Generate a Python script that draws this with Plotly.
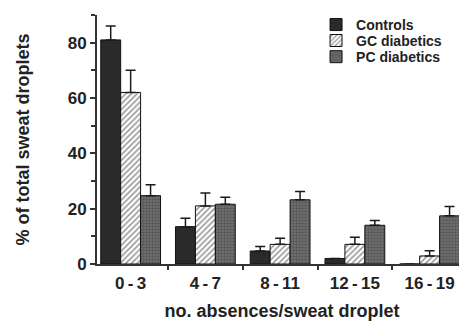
import plotly.graph_objects as go

categories = ["0-3", "4-7", "8-11", "12-15", "16-19"]
tick_labels = ["0\u2009-\u20093", "4\u2009-\u20097", "8\u2009-\u200911", "12\u2009-\u200915", "16\u2009-\u200919"]

controls = [81, 13.5, 4.7, 2.0, 0]
controls_err = [5, 3, 1.6, 0, 0]
gc = [62, 21, 7.1, 7.1, 2.9]
gc_err = [8, 4.7, 2.2, 2.6, 1.9]
pc = [24.7, 21.6, 23.2, 14, 17.4]
pc_err = [3.9, 2.5, 3.0, 1.7, 3.4]

FONT = "Liberation Sans, Arial, Helvetica, sans-serif"

def err(vals):
    return dict(type="data", array=vals, arrayminus=[0] * len(vals), symmetric=False,
                color="#1a1a1a", thickness=1.5, width=5)

fig = go.Figure()
fig.add_trace(go.Bar(
    name="Controls", x=categories, y=controls, error_y=err(controls_err), legend="legend",
    marker=dict(color="#2a2a2a", line=dict(color="#111", width=1)),
))
fig.add_trace(go.Bar(
    name="GC diabetics", x=categories, y=gc, error_y=err(gc_err), legend="legend2",
    marker=dict(color="white", line=dict(color="#111", width=1),
                pattern=dict(shape="/", fgcolor="#333", bgcolor="white", size=4, solidity=0.4)),
))
fig.add_trace(go.Bar(
    name="PC diabetics", x=categories, y=pc, error_y=err(pc_err), legend="legend3",
    marker=dict(color="#666", line=dict(color="#111", width=1),
                pattern=dict(shape=".", fgcolor="#383838", bgcolor="#747474", size=3, solidity=0.5)),
))

leg_font = dict(size=14, family=FONT, weight="bold", color="#222")
def leg(y):
    return dict(x=0.592, y=y, xanchor="left", yanchor="middle", font=leg_font,
                bgcolor="rgba(0,0,0,0)", itemwidth=30, borderwidth=0)

fig.update_layout(
    width=459, height=313,
    margin=dict(l=89, r=0, t=7, b=57, autoexpand=False),
    paper_bgcolor="white", plot_bgcolor="white",
    barmode="group", bargap=0.2, bargroupgap=0,
    font=dict(family=FONT, size=17, color="#222", weight="bold"),
    showlegend=True,
    legend=leg(0.960), legend2=leg(0.896), legend3=leg(0.831),
    xaxis=dict(
        range=[-0.45, 4.5], tickmode="array", tickvals=categories, ticktext=tick_labels,
        tickson="boundaries", ticks="outside", ticklen=4, tickwidth=1.5, tickcolor="#333",
        showline=True, linecolor="#333", linewidth=2, showgrid=False, zeroline=False,
        automargin=False, ticklabelstandoff=3,
        title=dict(text="no. absences/sweat droplet", font=dict(size=18, family=FONT, weight="bold"), standoff=15),
        tickfont=dict(size=17, family=FONT, weight="bold"),
    ),
    yaxis=dict(
        range=[0, 90], tickmode="array", tickvals=[0, 20, 40, 60, 80],
        ticks="outside", ticklen=5, tickwidth=1.5, tickcolor="#333",
        minor=dict(tickmode="array", tickvals=[10, 30, 50, 70, 90], ticks="outside", ticklen=4, tickwidth=1.5, tickcolor="#333"),
        showline=True, linecolor="#333", linewidth=2, showgrid=False, zeroline=False,
        automargin=False,
        title=dict(text="% of total sweat droplets", font=dict(size=18, family=FONT, weight="bold"), standoff=33),
        tickfont=dict(size=17, family=FONT, weight="bold"),
    ),
)

fig.write_html("out.html")
